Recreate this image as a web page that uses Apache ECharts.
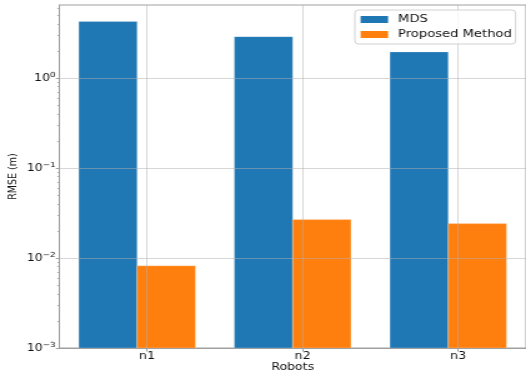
<!DOCTYPE html>
<html>
<head>
<meta charset="utf-8">
<script src="https://cdn.jsdelivr.net/npm/echarts@6/dist/echarts.min.js"></script>
<style>
  html, body { margin: 0; padding: 0; background: #fff; overflow: hidden; }
  /* chart is laid out at 421px wide and stretched horizontally to 526px */
  #chart { width: 421px; height: 374px; transform: scaleX(1.2494); transform-origin: 0 0; }
</style>
</head>
<body>
<div id="chart"></div>
<script>
// Robot localisation error (RMSE, metres), log scale
const categories = ['n1', 'n2', 'n3'];
const mdsValues = [4.25, 2.88, 1.95];
const proposedValues = [0.0082, 0.0267, 0.0241];
const seriesNames = ['MDS', 'Proposed Method'];
const seriesColors = ['#1f77b4', '#ff7f0e'];
const yMajorTicks = [0.001, 0.01, 0.1, 1];
const yMin = 0.001;
const yMax = 6.47;

// minor ticks at 2..9 x 10^k
const yMinorTicks = [];
for (let e = -3; e <= 0; e++) {
  for (let m = 2; m <= 9; m++) {
    const v = m * Math.pow(10, e);
    if (v < yMax) yMinorTicks.push(v);
  }
}

// category labels sit slightly right of the bar-group centres
const labelShift = 0.064;
const xLabelPos = categories.map((c, i) => i + labelShift);

const FONT = 'DejaVu Sans';
const GRID_COLOR = 'rgba(176,176,176,0.5)';
const SPINE = '#a0a0a0';
const BAR_FRACTION = 0.375; // each bar's share of a category band

function supLabel(v) {
  const e = Math.round(Math.log10(v));
  const s = e < 0 ? '\u2212' + (-e) : String(e);
  return '{b|10}{s|' + s + '}';
}

// bars grow from the bottom of the log axis; side 0 = left of centre, 1 = right
function barRenderer(side) {
  return function (params, api) {
    const idx = api.value(0);
    const val = api.value(1);
    const top = api.coord([idx, val]);
    const base = api.coord([idx, yMin]);
    const band = api.size([1, 0])[0];
    const w = band * BAR_FRACTION;
    const x = side === 0 ? top[0] - w : top[0];
    return {
      type: 'rect',
      shape: { x: x, y: top[1], width: w, height: base[1] - top[1] },
      style: { fill: api.visual('color'), stroke: 'rgba(255,255,255,0.25)', lineWidth: 1 }
    };
  };
}

const chart = echarts.init(document.getElementById('chart'));
chart.setOption({
  animation: false,
  backgroundColor: '#fff',
  textStyle: { fontFamily: FONT },
  grid: {
    left: 47.5, right: 0, top: 5, bottom: 26,
    containLabel: false, outerBoundsMode: 'none',
    show: true, borderColor: SPINE, borderWidth: 1, backgroundColor: 'transparent'
  },
  legend: {
    orient: 'vertical',
    left: 284, top: 10,
    itemWidth: 22, itemHeight: 7, itemGap: 2,
    padding: [3, 3, 3, 4.6],
    backgroundColor: 'rgba(255,255,255,0.8)',
    borderColor: 'rgba(204,204,204,0.9)', borderWidth: 1, borderRadius: 3,
    icon: 'rect',
    textStyle: { fontFamily: FONT, fontSize: 10.5, color: '#111', lineHeight: 13, padding: [0, 0, 0, 3] },
    data: seriesNames
  },
  xAxis: [
    {
      type: 'category', data: categories, show: false
    },
    {
      type: 'value', min: -0.5, max: 2.5, position: 'bottom', z: 3,
      name: 'Robots', nameLocation: 'middle', nameGap: 14.5, nameMoveOverlap: false,
      nameTextStyle: { fontFamily: FONT, fontSize: 10, color: '#111' },
      axisLine: { show: true, onZero: false, lineStyle: { color: SPINE, width: 1 } },
      axisTick: { show: true, length: 3.5, customValues: xLabelPos, lineStyle: { color: SPINE } },
      axisLabel: {
        customValues: xLabelPos, margin: 3,
        fontFamily: FONT, fontSize: 10, color: '#111',
        formatter: v => categories[Math.round(v - labelShift)]
      },
      splitLine: { show: true, lineStyle: { color: GRID_COLOR, width: 1 } }
    }
  ],
  yAxis: [
    {
      type: 'log', logBase: 10, min: yMin, max: yMax, z: 3,
      name: 'RMSE (m)', nameLocation: 'middle', nameGap: 32, nameRotate: 90, nameMoveOverlap: false,
      nameTextStyle: { fontFamily: FONT, fontSize: 9.5, color: '#111' },
      axisLine: { show: true, onZero: false, lineStyle: { color: SPINE, width: 1 } },
      axisTick: { show: true, length: 2.8, customValues: yMajorTicks, lineStyle: { color: SPINE } },
      axisLabel: {
        customValues: yMajorTicks, margin: 3,
        color: '#111',
        formatter: supLabel,
        rich: {
          b: { fontFamily: FONT, fontSize: 10, color: '#111' },
          s: { fontFamily: FONT, fontSize: 7, color: '#111', padding: [0, 0, 6, 0] }
        }
      },
      splitLine: { show: true, lineStyle: { color: GRID_COLOR, width: 1 } }
    },
    {
      type: 'log', logBase: 10, min: yMin, max: yMax, z: 3, position: 'left',
      axisLine: { show: false, onZero: false },
      axisTick: { show: true, length: 1.6, customValues: yMinorTicks, lineStyle: { color: SPINE, width: 0.8 } },
      axisLabel: { show: false },
      splitLine: { show: false }
    }
  ],
  series: [
    {
      name: seriesNames[0], type: 'custom', xAxisIndex: 0, yAxisIndex: 0,
      itemStyle: { color: seriesColors[0] },
      renderItem: barRenderer(0),
      encode: { x: 0, y: 1 },
      data: mdsValues.map((v, i) => [i, v])
    },
    {
      name: seriesNames[1], type: 'custom', xAxisIndex: 0, yAxisIndex: 0,
      itemStyle: { color: seriesColors[1] },
      renderItem: barRenderer(1),
      encode: { x: 0, y: 1 },
      data: proposedValues.map((v, i) => [i, v])
    }
  ]
});
</script>
</body>
</html>
